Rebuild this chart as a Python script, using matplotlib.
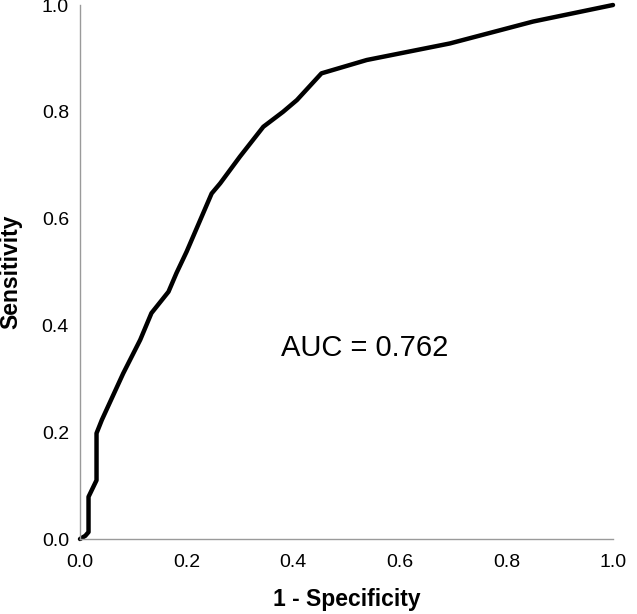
import matplotlib
matplotlib.use('Agg')
import matplotlib.pyplot as plt

plt.rcParams['font.family'] = ['Liberation Sans', 'DejaVu Sans']

# ROC curve points (1 - specificity, sensitivity)
fpr = [0.0, 0.010, 0.016, 0.016, 0.031, 0.031, 0.041, 0.081, 0.113, 0.134,
       0.166, 0.181, 0.200, 0.247, 0.263, 0.300, 0.344, 0.381, 0.407, 0.453,
       0.538, 0.694, 0.850, 1.0]
tpr = [0.0, 0.006, 0.013, 0.079, 0.110, 0.198, 0.223, 0.310, 0.373, 0.423,
       0.463, 0.498, 0.538, 0.647, 0.666, 0.716, 0.772, 0.800, 0.822, 0.872,
       0.897, 0.928, 0.969, 1.0]
auc_label = "AUC = 0.762"
ticks = [0.0, 0.2, 0.4, 0.6, 0.8, 1.0]

fig = plt.figure(figsize=(6.37, 6.14), dpi=100)
ax = fig.add_axes([80 / 637, 75 / 614, 533 / 637, 534 / 614])

ax.plot(fpr, tpr, color='black', linewidth=3.2, solid_joinstyle='round',
        solid_capstyle='round', clip_on=False)

ax.set_xlim(0, 1)
ax.set_ylim(0, 1)
ax.set_xticks(ticks)
ax.set_yticks(ticks)
ax.set_xticklabels([f"{t:.1f}" for t in ticks])
ax.set_yticklabels([f"{t:.1f}" for t in ticks])
ax.tick_params(axis='both', length=0, labelsize=14)
ax.tick_params(axis='x', pad=11)
ax.tick_params(axis='y', pad=8)

for side in ['top', 'right']:
    ax.spines[side].set_visible(False)
for side in ['left', 'bottom']:
    ax.spines[side].set_color('#9a9a9a')
    ax.spines[side].set_linewidth(1.0)

ax.set_xlabel("1 - Specificity", fontsize=16.5, fontweight='bold', labelpad=12)
ax.set_ylabel("Sensitivity", fontsize=16.5, fontweight='bold', labelpad=14)

ax.text(0.378, 0.358, auc_label, fontsize=21, ha='left', va='center')

fig.savefig('out.png', dpi=100)
plt.close(fig)
